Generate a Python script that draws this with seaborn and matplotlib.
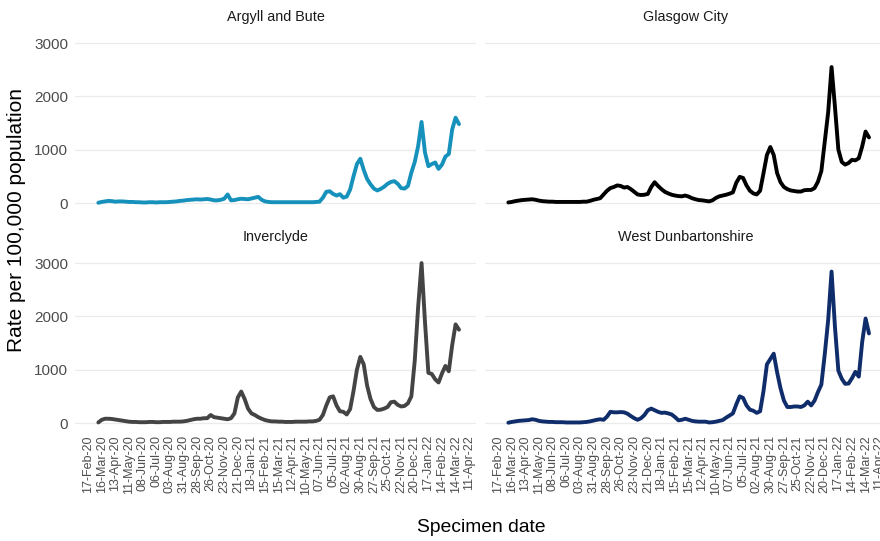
#Importing required Libraries
import numpy as np
import pandas as pd
import matplotlib
matplotlib.use("Agg")
from matplotlib import pyplot as plt
import seaborn as sns
import warnings
warnings.filterwarnings('ignore')

# weekly specimen dates (7 day rate per 100,000)
start_date = "2020-03-09"
n_weeks = 107

areas = ["Argyll and Bute", "Glasgow City", "Inverclyde", "West Dunbartonshire"]
colours = ["#1591BC", "#000000", "#444444", "#102D6B"]

argyll = [5, 20, 30, 40, 35, 25, 30, 30, 25, 20,
          20, 15, 15, 10, 10, 15, 15, 10, 15, 15,
          15, 20, 25, 30, 40, 45, 55, 60, 65, 70,
          65, 70, 75, 65, 50, 50, 60, 80, 160, 50,
          55, 70, 80, 75, 70, 85, 100, 115, 60, 30,
          20, 15, 15, 15, 15, 15, 15, 15, 15, 15,
          15, 15, 15, 15, 20, 25, 100, 210, 220, 170,
          140, 165, 100, 120, 250, 500, 730, 830, 620, 450,
          350, 270, 235, 265, 305, 360, 395, 410, 360, 280,
          270, 320, 570, 770, 1070, 1520, 950, 690, 730, 760,
          640, 720, 870, 920, 1380, 1600, 1480]

glasgow = [10, 20, 35, 45, 55, 60, 65, 70, 60, 45,
           35, 30, 25, 25, 20, 20, 20, 20, 20, 20,
           20, 20, 25, 25, 40, 60, 75, 90, 160, 230,
           280, 300, 330, 320, 290, 300, 260, 210, 160, 150,
           155, 170, 300, 390, 320, 260, 210, 180, 155, 140,
           130, 125, 140, 120, 90, 70, 55, 50, 40, 30,
           50, 95, 125, 140, 155, 175, 200, 380, 490, 470,
           330, 230, 180, 160, 230, 560, 900, 1050, 900, 560,
           390, 300, 260, 235, 225, 215, 215, 240, 245, 245,
           280, 400, 600, 1150, 1700, 2550, 1800, 1000, 770, 720,
           750, 810, 800, 840, 1060, 1340, 1230]

inverclyde = [10, 60, 80, 80, 75, 65, 55, 45, 35, 25,
              20, 20, 15, 15, 15, 20, 20, 15, 15, 20,
              20, 20, 25, 25, 25, 30, 40, 55, 70, 80,
              80, 90, 90, 150, 110, 100, 90, 80, 70, 90,
              180, 480, 590, 450, 270, 180, 150, 110, 80, 55,
              40, 30, 30, 25, 25, 20, 20, 20, 25, 25,
              25, 25, 30, 30, 40, 60, 150, 330, 480, 500,
              330, 220, 210, 160, 260, 600, 1000, 1240, 1100, 700,
              450, 300, 245, 250, 270, 300, 390, 400, 340, 310,
              320, 370, 500, 1170, 2180, 3000, 1900, 940, 920, 820,
              760, 930, 1070, 970, 1460, 1850, 1750]

west_dunbartonshire = [5, 20, 30, 40, 45, 50, 55, 70, 60, 40,
                       30, 25, 20, 20, 15, 15, 15, 10, 10, 10,
                       10, 10, 15, 20, 30, 45, 60, 70, 60, 120,
                       210, 200, 200, 205, 200, 175, 130, 90, 60, 90,
                       150, 240, 270, 240, 210, 190, 195, 180, 160, 110,
                       50, 60, 80, 60, 40, 30, 25, 25, 25, 10,
                       15, 25, 40, 55, 100, 140, 180, 350, 500, 470,
                       330, 250, 230, 190, 220, 600, 1100, 1200, 1300, 950,
                       650, 420, 300, 300, 310, 310, 300, 330, 400, 330,
                       420, 580, 720, 1290, 1930, 2840, 1800, 980, 830, 735,
                       740, 840, 960, 870, 1520, 1960, 1680]

tick_labels = ["17-Feb-20", "16-Mar-20", "13-Apr-20", "11-May-20", "08-Jun-20",
               "06-Jul-20", "03-Aug-20", "31-Aug-20", "28-Sep-20", "26-Oct-20",
               "23-Nov-20", "21-Dec-20", "18-Jan-21", "15-Feb-21", "15-Mar-21",
               "12-Apr-21", "10-May-21", "07-Jun-21", "05-Jul-21", "02-Aug-21",
               "30-Aug-21", "27-Sep-21", "25-Oct-21", "22-Nov-21", "20-Dec-21",
               "17-Jan-22", "14-Feb-22", "14-Mar-22", "11-Apr-22"]

#Building the long table
dates = pd.date_range(start_date, periods=n_weeks, freq="7D")
series = [argyll, glasgow, inverclyde, west_dunbartonshire]
df = pd.concat([pd.DataFrame({'date': dates, 'rate': vals, 'area': name})
                for name, vals in zip(areas, series)], ignore_index=True)

tick_dates = pd.to_datetime(tick_labels, format="%d-%b-%y")

#Plotting
sns.set_theme(style="white")
plt.rcParams['font.family'] = ['Liberation Sans', 'DejaVu Sans']

W, H = 880, 541
fig = plt.figure(figsize=(W / 100, H / 100), dpi=100)

# panel boxes in pixels: (left, top), all the same size
boxes = [(75, 34), (485, 34), (75, 254), (485, 254)]
pw, ph = 401, 177

for i, (name, col) in enumerate(zip(areas, colours)):
    left, top = boxes[i]
    ax = fig.add_axes([left / W, 1 - (top + ph) / H, pw / W, ph / H])
    sns.lineplot(data=df[df['area'] == name], x='date', y='rate', color=col,
                 linewidth=2.8, ax=ax, solid_joinstyle='round', solid_capstyle='round')
    ax.set_xlim(pd.Timestamp("2020-01-21"), pd.Timestamp("2022-04-25"))
    ax.set_ylim(-150, 3170)
    ax.set_yticks([0, 1000, 2000, 3000])
    ax.set_xticks(tick_dates)
    ax.grid(axis='y', color='#EBEBEB', linewidth=0.9)
    ax.grid(axis='x', visible=False)
    ax.set_axisbelow(True)
    for s in ax.spines.values():
        s.set_visible(False)
    ax.tick_params(length=0, labelcolor='#4D4D4D')
    ax.set_xlabel('')
    ax.set_ylabel('')
    if i % 2 == 0:
        ax.set_yticklabels(['0', '1000', '2000', '3000'], fontsize=11)
        ax.tick_params(axis='y', pad=5)
    else:
        ax.set_yticklabels([])
    if i >= 2:
        ax.set_xticklabels(tick_labels, rotation=90, fontsize=9)
        ax.tick_params(axis='x', pad=3)
    else:
        ax.set_xticklabels([])
    ax.text(0.5, 1 + 17 / ph, name, transform=ax.transAxes, ha='center',
            va='center', fontsize=10.4, color='#1A1A1A')

fig.text(17 / W, 1 - 220 / H, "Rate per 100,000 population", rotation=90,
         ha='center', va='center', fontsize=15, color='black')
fig.text(481 / W, 1 - 527 / H, "Specimen date", ha='center', va='center',
         fontsize=13.9, color='black')

fig.savefig('out.png', dpi=100)
